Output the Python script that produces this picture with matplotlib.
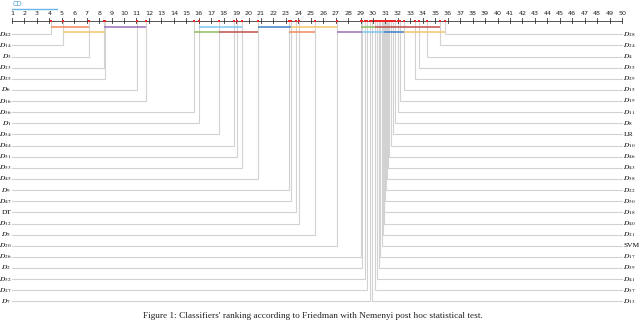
import matplotlib
matplotlib.use("Agg")
import matplotlib.pyplot as plt

plt.rcParams['mathtext.fontset'] = 'stix'

# ---- data ----
left_names = ["D42", "D14", "D3", "D23", "D25", "D6", "D16", "D36", "D1", "D34",
              "D44", "D31", "D33", "D45", "D9", "D47", "DT", "D12", "D5", "D20",
              "D26", "D2", "D32", "D27", "D7"]
left_ranks = [4.12, 5.10, 7.19, 8.39, 8.50, 11.03, 11.78, 15.65, 16.00, 17.60,
              18.86, 19.10, 19.50, 20.75, 23.26, 23.44, 23.82, 24.08, 25.31, 27.08,
              29.00, 29.13, 29.32, 29.53, 29.72]
right_names = ["D28", "D24", "D4", "D35", "D29", "D15", "D19", "D11", "D8", "LR",
               "D10", "D46", "D43", "D38", "D22", "D30", "D18", "D40", "D21", "SVM",
               "D17", "D39", "D41", "D37", "D13"]
right_ranks = [35.75, 35.40, 34.30, 33.67, 33.40, 32.52, 32.20, 32.00, 31.80, 31.60,
               31.45, 31.30, 31.20, 31.10, 31.05, 31.00, 30.90, 30.85, 30.80, 30.70,
               30.60, 30.46, 30.33, 30.12, 29.93]
cd_value = 3.6
tick_values = list(range(1, 51))

# cliques: (start rank, end rank, level, colour)
clique_start = [4.12, 8.39, 16.00, 20.75, 23.44, 29.00, 30.12,
                5.10, 15.65, 17.60, 23.26, 27.08, 29.13, 30.85, 32.52]
clique_end = [7.19, 11.78, 19.50, 23.44, 27.08, 30.12, 35.40,
              8.50, 17.60, 20.75, 25.31, 29.13, 30.85, 32.52, 35.75]
clique_level = [0, 0, 0, 0, 0, 0, 0,
                1, 1, 1, 1, 1, 1, 1, 1]
clique_color = ['#ef8a5a', '#9a70b8', '#7ec6ef', '#3f80c6', '#f3c56c', '#8fbd5c', '#c0504d',
                '#f3c56c', '#8fbd5c', '#c0504d', '#ef8a5a', '#9a70b8', '#7ec6ef', '#3f80c6', '#f3c56c']

caption = "Figure 1: Classifiers' ranking according to Friedman with Nemenyi post hoc statistical test."

# ---- layout ----
px_per_unit = 12.45
fig = plt.figure(figsize=(6.4, 3.2), dpi=100)
ax = fig.add_axes([0, 0, 1, 1])
ax.set_xlim(1 - 12 / px_per_unit, 50 + 18 / px_per_unit)
ax.set_ylim(320, 0)
ax.axis('off')

axis_y = 20.6
row0 = 34.3
row_step = 11.13
level_y = [27.2, 31.6]
conn_color = '#d2d2d2'


def fmt(name):
    if name.startswith('D') and name[1:].isdigit():
        return r'$D_{%s}$' % name[1:]
    return name


# connectors
for i, (n, r) in enumerate(zip(left_names, left_ranks)):
    y = row0 + i * row_step
    ax.plot([r, r, 1], [axis_y, y, y], color=conn_color, lw=0.8, zorder=1,
            solid_joinstyle='miter')
    ax.text(1 - 0.06, y, fmt(n), ha='right', va='center', fontsize=5.4,
            family='Liberation Serif')
for i, (n, r) in enumerate(zip(right_names, right_ranks)):
    y = row0 + i * row_step
    ax.plot([r, r, 50], [axis_y, y, y], color=conn_color, lw=0.8, zorder=1,
            solid_joinstyle='miter')
    ax.text(50 + 0.12, y, fmt(n), ha='left', va='center', fontsize=5.4,
            family='Liberation Serif')

# axis
ax.plot([tick_values[0], tick_values[-1]], [axis_y, axis_y], color='#555555', lw=0.7, zorder=3)
for t in tick_values:
    ax.plot([t, t], [axis_y - 2.2, axis_y + 2.2], color='#333333', lw=0.6, zorder=3)
    ax.text(t, axis_y - 4.5, str(t), ha='center', va='bottom', fontsize=4.6,
            color='#222222', family='DejaVu Sans')

# rank markers on axis
all_ranks = left_ranks + right_ranks
ax.plot(all_ranks, [axis_y] * len(all_ranks), 's', color='#ee2222', ms=1.5,
        mew=0, zorder=4)

# cliques
for s, e, lv, c in zip(clique_start, clique_end, clique_level, clique_color):
    ax.plot([s, e], [level_y[lv], level_y[lv]], color=c, lw=1.1, zorder=5,
            solid_capstyle='butt')

# CD bar
ax.plot([1, 1 + cd_value], [9.0, 9.0], color='#6ab4e6', lw=1.0)
ax.text(1.05, 4.3, 'CD', ha='left', va='center', fontsize=4.8, color='#4a9ad6',
        family='DejaVu Sans')

fig.text(313 / 640, 1 - 312.5 / 320, caption, ha='center', va='top', fontsize=6.7,
         family='Liberation Serif', color='#222222')

fig.savefig('out.png', dpi=100)
